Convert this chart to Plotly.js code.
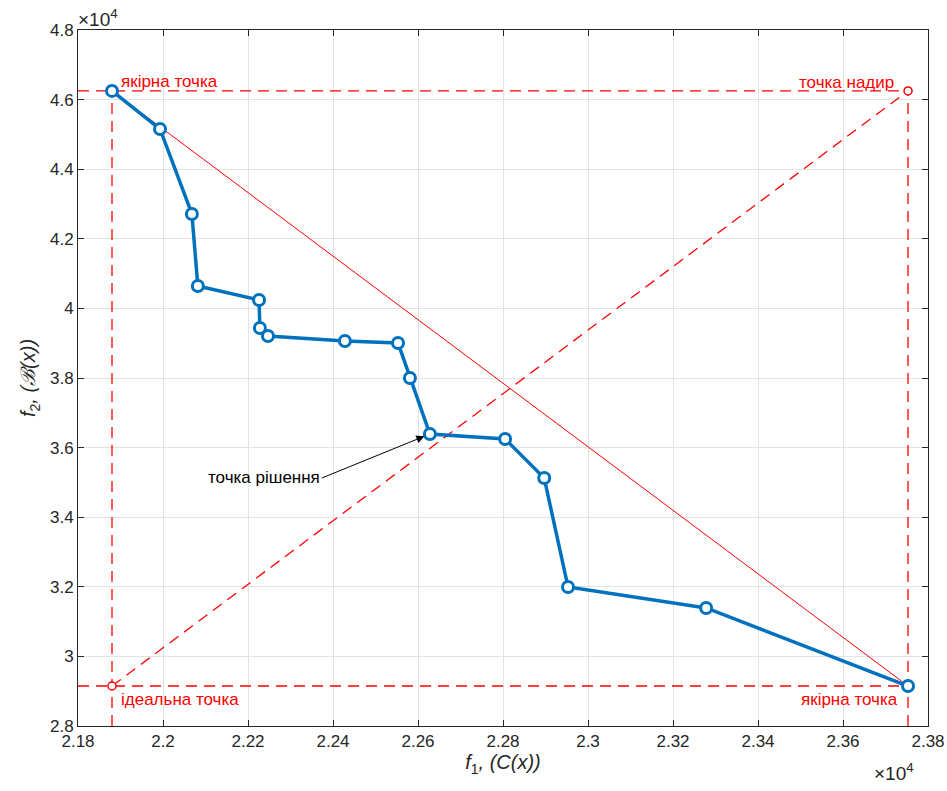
<!DOCTYPE html>
<html>
<head>
<meta charset="utf-8">
<script src="https://cdn.plot.ly/plotly-3.0.1.min.js"></script>
<style>html,body{margin:0;padding:0;background:#fff;}#chart{width:947px;height:791px;}</style>
</head>
<body>
<div id="chart"></div>
<script>
// Values in units of 10^4
const paretoX = [2.1880, 2.1993, 2.2068, 2.2082, 2.2226, 2.2228, 2.2247, 2.2428, 2.2553, 2.2581, 2.2628, 2.2805, 2.2897, 2.2953, 2.3278, 2.3753];
const paretoY = [4.6250, 4.5155, 4.2713, 4.0644, 4.0241, 3.9437, 3.9207, 3.9063, 3.9006, 3.8000, 3.6391, 3.6247, 3.5126, 3.1994, 3.1391, 2.9149];
const idealPoint = [2.1880, 2.9149];
const nadirPoint = [2.3753, 4.6250];
const solutionPoint = [2.2628, 3.6391];
const xRange = [2.18, 2.38];
const yRange = [2.8, 4.8];
const xTicks = [2.18, 2.2, 2.22, 2.24, 2.26, 2.28, 2.3, 2.32, 2.34, 2.36, 2.38];
const xTickLabels = ['2.18', '2.2', '2.22', '2.24', '2.26', '2.28', '2.3', '2.32', '2.34', '2.36', '2.38'];
const yTicks = [2.8, 3, 3.2, 3.4, 3.6, 3.8, 4, 4.2, 4.4, 4.6, 4.8];
const yTickLabels = ['2.8', '3', '3.2', '3.4', '3.6', '3.8', '4', '4.2', '4.4', '4.6', '4.8'];
const labels = {
  anchorTop: 'якірна точка',
  anchorBottom: 'якірна точка',
  nadir: 'точка надир',
  ideal: 'ідеальна точка',
  solution: 'точка рішення'
};

const FONT = 'Liberation Sans, Arial, sans-serif';
const red = '#FF0000';
const dashRed = {color: red, width: 1.3, dash: '11px,7px'};
const traces = [
  {x: [xRange[0], nadirPoint[0]], y: [nadirPoint[1], nadirPoint[1]], mode: 'lines', line: dashRed, hoverinfo: 'skip'},
  {x: [xRange[0], nadirPoint[0]], y: [idealPoint[1], idealPoint[1]], mode: 'lines', line: dashRed, hoverinfo: 'skip'},
  {x: [idealPoint[0], idealPoint[0]], y: [yRange[0], nadirPoint[1]], mode: 'lines', line: dashRed, hoverinfo: 'skip'},
  {x: [nadirPoint[0], nadirPoint[0]], y: [yRange[0], nadirPoint[1]], mode: 'lines', line: dashRed, hoverinfo: 'skip'},
  {x: [idealPoint[0], nadirPoint[0]], y: [idealPoint[1], nadirPoint[1]], mode: 'lines', line: dashRed, hoverinfo: 'skip'},
  {x: [paretoX[0], paretoX[paretoX.length-1]], y: [paretoY[0], paretoY[paretoY.length-1]], mode: 'lines', line: {color: red, width: 1}, hoverinfo: 'skip'},
  {x: [idealPoint[0], nadirPoint[0]], y: [idealPoint[1], nadirPoint[1]], mode: 'markers',
   marker: {symbol: 'circle', size: 8, color: '#fff', line: {color: red, width: 1.5}}},
  {x: paretoX, y: paretoY, mode: 'lines+markers', line: {color: '#0072BD', width: 3.5},
   marker: {symbol: 'circle', size: 11, color: '#fff', line: {color: '#0072BD', width: 3}}}
];

const axisCommon = {
  showline: true, mirror: 'ticks', linecolor: '#262626', linewidth: 1,
  ticks: 'inside', ticklen: 6, tickcolor: '#262626',
  showgrid: true, gridcolor: '#E3E3E3', gridwidth: 1,
  zeroline: false,
  tickfont: {family: FONT, size: 17, color: '#262626'}
};

const layout = {
  width: 947, height: 791,
  margin: {l: 78, r: 19, t: 30, b: 65},
  paper_bgcolor: '#fff', plot_bgcolor: '#fff',
  showlegend: false,
  xaxis: Object.assign({}, axisCommon, {
    range: xRange, tickvals: xTicks, ticktext: xTickLabels,
    title: {text: '<i>f</i><sub>1</sub><i>, (C(x))</i>', font: {family: FONT, size: 20, color: '#262626'}, standoff: 4}
  }),
  yaxis: Object.assign({}, axisCommon, {
    range: yRange, tickvals: yTicks, ticktext: yTickLabels,
    title: {text: '<i>f</i><sub>2</sub><i>, (ℬ(x))</i>', font: {family: FONT, size: 20, color: '#262626'}, standoff: 8}
  }),
  annotations: [
    {xref: 'paper', yref: 'paper', x: 0, y: 1, xanchor: 'left', yanchor: 'bottom', showarrow: false,
     text: '×10<sup>4</sup>', font: {family: FONT, size: 19, color: '#262626'}, xshift: -2, yshift: -2},
    {xref: 'paper', yref: 'paper', x: 1, y: 0, xanchor: 'right', yanchor: 'top', showarrow: false,
     text: '×10<sup>4</sup>', font: {family: FONT, size: 19, color: '#262626'}, xshift: -12, yshift: -32},
    {x: paretoX[0], y: paretoY[0], xanchor: 'left', yanchor: 'bottom', showarrow: false, text: labels.anchorTop,
     font: {family: FONT, size: 17, color: red}, xshift: 7, yshift: -2},
    {x: nadirPoint[0], y: nadirPoint[1], xanchor: 'right', yanchor: 'bottom', showarrow: false, text: labels.nadir,
     font: {family: FONT, size: 17, color: red}, xshift: -12, yshift: -3},
    {x: idealPoint[0], y: idealPoint[1], xanchor: 'left', yanchor: 'top', showarrow: false, text: labels.ideal,
     font: {family: FONT, size: 17, color: red}, xshift: 7, yshift: -2},
    {x: paretoX[paretoX.length-1], y: paretoY[paretoY.length-1], xanchor: 'right', yanchor: 'top', showarrow: false, text: labels.anchorBottom,
     font: {family: FONT, size: 17, color: red}, xshift: -8, yshift: -2},
    {x: solutionPoint[0], y: solutionPoint[1], ax: -108, ay: 44, axref: 'pixel', ayref: 'pixel',
     text: labels.solution, showarrow: true, arrowhead: 2, arrowsize: 1.6, arrowwidth: 1, arrowcolor: '#000',
     standoff: 6, xanchor: 'right', yanchor: 'middle',
     font: {family: FONT, size: 17, color: '#000'}}
  ]
};

Plotly.newPlot('chart', traces, layout, {displayModeBar: false, staticPlot: true});
</script>
</body>
</html>
